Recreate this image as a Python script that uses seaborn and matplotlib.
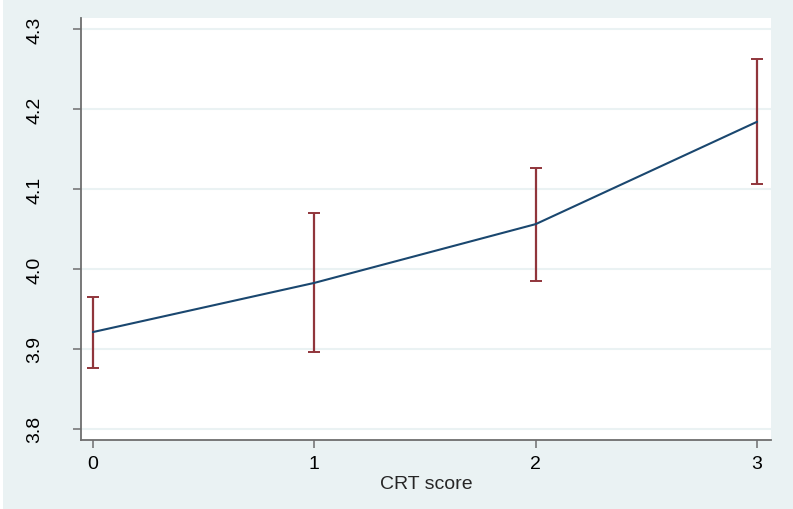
import matplotlib
matplotlib.use("Agg")
import matplotlib.pyplot as plt
import seaborn as sns
import pandas as pd
from matplotlib.patches import Rectangle

# Mean outcome by CRT score with 95% confidence intervals
crt_score = [0, 1, 2, 3]
mean_value = [3.921, 3.9825, 4.056, 4.184]
ci_lower = [3.876, 3.896, 3.985, 4.106]
ci_upper = [3.965, 4.070, 4.126, 4.2625]
y_ticks = [3.8, 3.9, 4.0, 4.1, 4.2, 4.3]
y_tick_labels = ["3.8", "3.9", "4.0", "4.1", "4.2", "4.3"]
x_ticks = [0, 1, 2, 3]

df = pd.DataFrame({"crt": crt_score, "mean": mean_value,
                   "lo": ci_lower, "hi": ci_upper})

BG = "#EAF2F3"
LINE = "#1A476F"
CI = "#90353B"
AXIS = "#6E6E6E"

sns.set_theme(style="white")
plt.rcParams["font.family"] = ["Liberation Sans", "DejaVu Sans"]

fig = plt.figure(figsize=(7.93, 5.10), dpi=100, facecolor=BG)
fig.patches.append(Rectangle((0, 0), 3 / 793, 1, transform=fig.transFigure,
                             facecolor="white", edgecolor="none", zorder=0))
ax = fig.add_axes([81 / 793, 1 - 441 / 510, 690 / 793, 422 / 510])
ax.set_facecolor("white")

# confidence intervals
ax.errorbar(df["crt"], df["mean"],
            yerr=[df["mean"] - df["lo"], df["hi"] - df["mean"]],
            fmt="none", ecolor=CI, elinewidth=1.6, capsize=4, capthick=1.4,
            zorder=3)
# fitted means
sns.lineplot(data=df, x="crt", y="mean", ax=ax, color=LINE, linewidth=1.5,
             zorder=4)

ax.set_xlim(-0.054, 3.063)
ax.set_ylim(3.786, 4.3138)
ax.set_xticks(x_ticks)
ax.set_xticklabels([str(t) for t in x_ticks], fontsize=14)
ax.set_yticks(y_ticks)
ax.set_yticklabels(y_tick_labels, fontsize=14, rotation=90, va="center")

ax.grid(axis="y", color=BG, linewidth=1.5)
ax.grid(axis="x", visible=False)
ax.set_axisbelow(True)

for side in ["top", "right"]:
    ax.spines[side].set_visible(False)
for side in ["left", "bottom"]:
    ax.spines[side].set_color(AXIS)
    ax.spines[side].set_linewidth(1.3)

ax.tick_params(axis="y", length=6, width=1.1, color=AXIS, pad=21,
               left=True, labelcolor="black")
ax.tick_params(axis="x", length=6, width=1.1, color=AXIS, pad=5,
               bottom=True, labelcolor="black")

ax.set_xlabel("CRT score", fontsize=14, labelpad=2)
ax.set_ylabel("")

fig.savefig("out.png", dpi=100, facecolor=BG)
